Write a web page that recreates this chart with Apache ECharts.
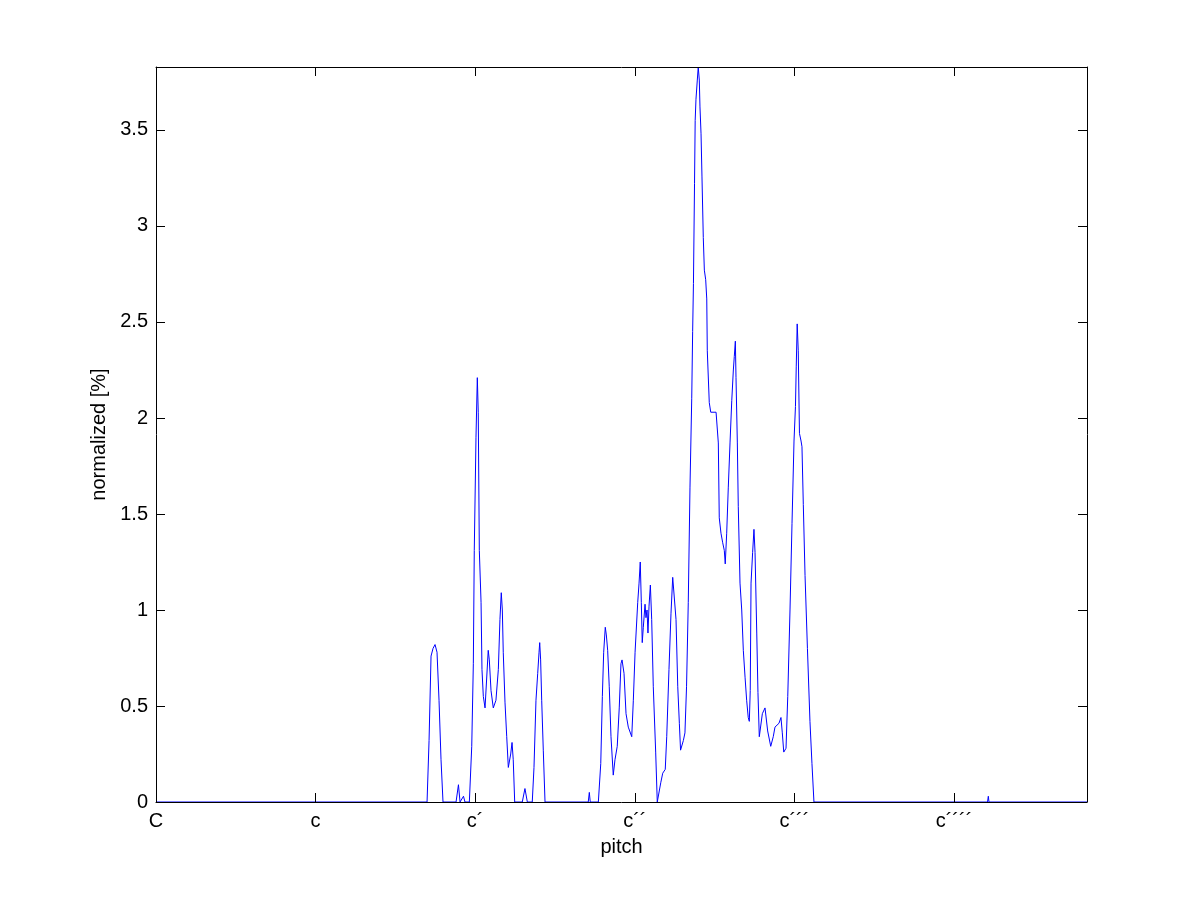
<!DOCTYPE html>
<html>
<head>
<meta charset="utf-8">
<script src="https://cdn.jsdelivr.net/npm/echarts@6/dist/echarts.min.js"></script>
<style>
html,body{margin:0;padding:0;background:#fff;}
#chart{width:1201px;height:901px;}
</style>
</head>
<body>
<div id="chart"></div>
<script>
// pitch in semitones above C (C = 0, c = 12, c´ = 24, ...)
const pitch = [
  0, 20.38, 20.53, 20.68, 20.83, 20.98, 21.13, 21.28, 21.43, 21.58,
  22.56, 22.74, 22.86, 23.01, 23.12, 23.23,
  23.56, 23.74, 23.86, 23.93, 24.06, 24.16, 24.23, 24.31, 24.44, 24.51, 24.61, 24.74,
  24.98, 25.06, 25.19, 25.36, 25.56, 25.74, 25.86, 25.96, 26.04, 26.11, 26.24, 26.37,
  26.49, 26.56, 26.67, 26.77, 26.86, 26.97,
  27.54, 27.74, 27.92,
  28.29, 28.42, 28.57, 28.70, 28.80, 28.85, 28.92, 29.00, 29.12, 29.25,
  32.50, 32.58, 32.65,
  33.26, 33.44, 33.56, 33.66, 33.78, 33.86, 33.96, 34.08, 34.21, 34.38, 34.51, 34.68,
  34.83, 34.96, 35.04, 35.19, 35.34, 35.51, 35.77, 35.89, 36.02, 36.22, 36.32, 36.41,
  36.49, 36.56, 36.64, 36.77, 36.84, 36.92, 36.99, 37.07, 37.17, 37.27, 37.39, 37.57,
  37.69, 37.84, 37.95, 38.10, 38.29, 38.40, 38.57, 38.72, 38.85, 38.97, 39.10, 39.23,
  39.35, 39.44, 39.65, 39.77, 39.89, 40.02, 40.15, 40.28, 40.35, 40.41, 40.49, 40.54,
  40.60, 40.70, 40.77, 40.85, 40.90, 40.98, 41.05, 41.15, 41.23, 41.33, 41.41, 41.45,
  41.60, 41.71, 41.86, 42.11, 42.20, 42.28, 42.35, 42.48, 42.61, 42.73, 42.80, 42.91,
  43.03, 43.16, 43.29, 43.41, 43.48, 43.56, 43.61, 43.71, 43.78, 43.91, 44.04, 44.16,
  44.29, 44.41, 44.53, 44.61, 44.68, 44.74, 44.86, 44.96, 45.04, 45.17, 45.26, 45.36,
  45.59, 45.79, 45.99, 46.22, 46.41, 46.54, 46.67, 46.84, 46.99, 47.09, 47.20, 47.37,
  47.50, 47.67, 47.82, 47.97, 48.08, 48.14, 48.21, 48.29, 48.38, 48.50, 48.57, 48.67,
  48.80, 48.98, 49.17, 49.32, 49.47,
  62.52, 62.58, 62.63, 70.0
];
const normalized = [
  0, 0, 0.32, 0.76, 0.80, 0.82, 0.78, 0.53, 0.22, 0,
  0, 0.09, 0, 0, 0.03, 0,
  0, 0.29, 0.72, 1.31, 1.90, 2.21, 2.03, 1.31, 1.04, 0.69, 0.55, 0.49,
  0.79, 0.74, 0.58, 0.49, 0.53, 0.69, 0.95, 1.09, 1.00, 0.78, 0.52, 0.34,
  0.18, 0.17, 0.25, 0.31, 0.22, 0,
  0, 0.07, 0,
  0, 0.18, 0.53, 0.67, 0.78, 0.83, 0.74, 0.53, 0.27, 0,
  0, 0.05, 0,
  0, 0.20, 0.55, 0.78, 0.91, 0.87, 0.79, 0.60, 0.34, 0.14, 0.22, 0.29,
  0.49, 0.72, 0.74, 0.67, 0.46, 0.39, 0.34, 0.53, 0.78, 1.04, 1.14, 1.25,
  1.04, 0.83, 0.91, 1.03, 0.96, 1.00, 0.88, 1.02, 1.13, 0.95, 0.60, 0.26,
  0, 0, 0.10, 0.15, 0.17, 0.34, 0.69, 0.98, 1.17, 1.17, 0.95, 0.60,
  0.41, 0.27, 0.32, 0.36, 0.60, 1.04, 1.64, 2.10, 2.45, 2.70, 3.22, 3.55,
  3.66, 3.76, 3.828, 3.76, 3.62, 3.48, 3.26, 2.94, 2.77, 2.72, 2.62, 2.35,
  2.08, 2.03, 2.02, 2.03, 2.03, 1.87, 1.48, 1.40, 1.35, 1.31, 1.24, 1.40,
  1.64, 1.87, 2.09, 2.25, 2.32, 2.40, 2.21, 1.87, 1.54, 1.14, 1.00, 0.79,
  0.65, 0.53, 0.44, 0.42, 0.58, 1.14, 1.30, 1.42, 1.30, 0.88, 0.57, 0.34,
  0.46, 0.49, 0.37, 0.29, 0.34, 0.39, 0.39, 0.41, 0.44, 0.36, 0.26, 0.28,
  0.55, 1.00, 1.45, 1.88, 2.06, 2.27, 2.49, 2.35, 1.92, 1.88, 1.85, 1.55,
  1.18, 0.80, 0.42, 0.20, 0,
  0, 0.03, 0, 0
];
const pitchTickLabels = ['C', 'c', 'c\u00B4', 'c\u00B4\u00B4', 'c\u00B4\u00B4\u00B4', 'c\u00B4\u00B4\u00B4\u00B4'];
const yTickLabels = ['0', '0.5', '1', '1.5', '2', '2.5', '3', '3.5'];

const xMax = 70;
const yMax = 3.828;
const FONT = 'Liberation Sans, Arial, Helvetica, sans-serif';

const seriesData = pitch.map((p, i) => [p, normalized[i]]);

const chart = echarts.init(document.getElementById('chart'), null, {renderer: 'canvas'});

const tickStyle = {show: true, inside: true, length: 9, lineStyle: {color: '#000', width: 1}};
const lineStyle = {show: true, onZero: false, lineStyle: {color: '#000', width: 1}};

chart.setOption({
  animation: false,
  backgroundColor: '#ffffff',
  grid: {left: 156, right: 114, top: 67, bottom: 99, containLabel: false},
  xAxis: [{
    type: 'value', position: 'bottom', min: 0, max: xMax, interval: 12, z: 5,
    axisLine: lineStyle, axisTick: tickStyle, splitLine: {show: false},
    axisLabel: {
      color: '#000', fontFamily: FONT, fontSize: 20, margin: 9,
      showMaxLabel: false,
      formatter: v => { const k = Math.round(v / 12); return Math.abs(v - k * 12) < 1e-6 ? (pitchTickLabels[k] || '') : ''; }
    },
    name: 'pitch', nameLocation: 'middle', nameGap: 35,
    nameTextStyle: {color: '#000', fontFamily: FONT, fontSize: 20}
  }, {
    type: 'value', position: 'top', min: 0, max: xMax, interval: 12, z: 5,
    axisLine: lineStyle, axisTick: tickStyle, splitLine: {show: false}, axisLabel: {show: false}
  }],
  yAxis: [{
    type: 'value', position: 'left', min: 0, max: yMax, interval: 0.5, z: 5,
    axisLine: lineStyle, axisTick: tickStyle, splitLine: {show: false},
    axisLabel: {
      color: '#000', fontFamily: FONT, fontSize: 20, margin: 8,
      showMaxLabel: false,
      formatter: v => { const k = Math.round(v / 0.5); return Math.abs(v - k * 0.5) < 1e-6 ? (yTickLabels[k] || '') : ''; }
    },
    name: 'normalized [%]', nameLocation: 'middle', nameGap: 43, nameRotate: 90,
    nameTextStyle: {color: '#000', fontFamily: FONT, fontSize: 20}
  }, {
    type: 'value', position: 'right', min: 0, max: yMax, interval: 0.5, z: 5,
    axisLine: lineStyle, axisTick: tickStyle, splitLine: {show: false}, axisLabel: {show: false}
  }],
  series: [{
    type: 'line', xAxisIndex: 0, yAxisIndex: 0,
    data: seriesData, showSymbol: false, symbol: 'none',
    lineStyle: {color: '#0000ff', width: 1}, z: 2, clip: true
  }]
});
</script>
</body>
</html>
